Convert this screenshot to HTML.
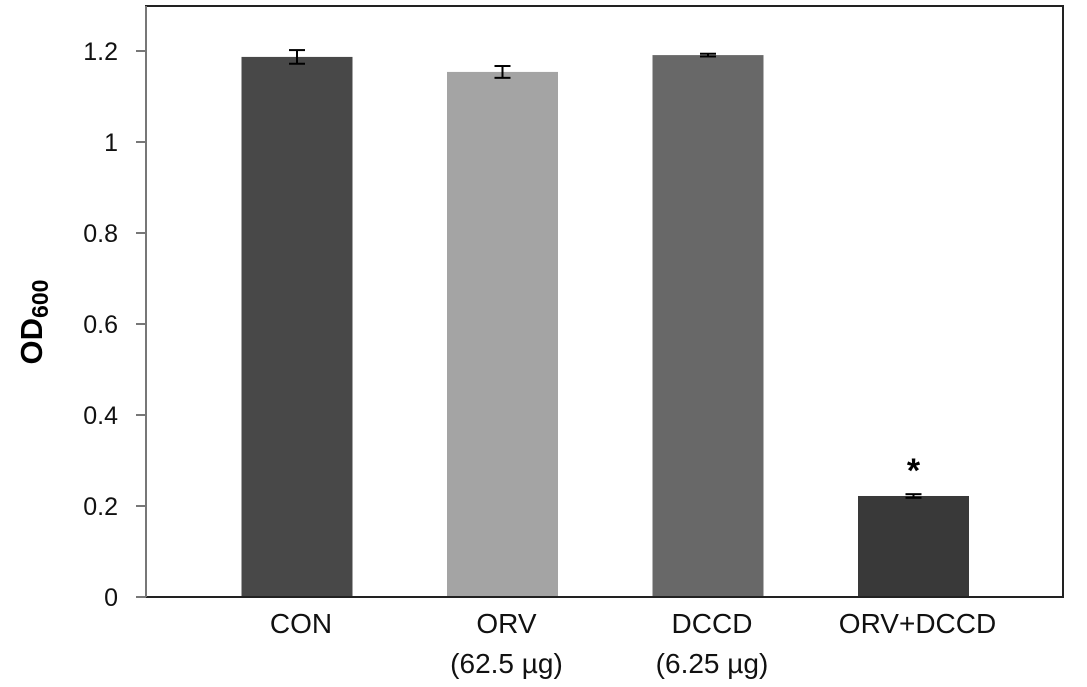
<!DOCTYPE html>
<html><head><meta charset="utf-8"><style>
body{margin:0;background:#fff;}
svg{display:block;font-family:"Liberation Sans",sans-serif;}
</style></head><body>
<svg id="chart" width="1087" height="687">
<rect x="146" y="6" width="917" height="591" fill="none" stroke="#222" stroke-width="2"/>
<g id="bars"></g>
<g id="yaxis"></g>
<text transform="translate(42,322) rotate(-90)" text-anchor="middle" font-size="31" font-weight="bold" fill="#000">OD<tspan font-size="23" dy="6">600</tspan></text>
</svg>
<script>
const categories=["CON","ORV","DCCD","ORV+DCCD"];
const subLabels=["","(62.5 µg)","(6.25 µg)",""];
const values=[1.187,1.154,1.191,0.222];
const errors=[0.015,0.013,0.003,0.004];
const colors=["#484848","#a4a4a4","#686868","#393939"];
const stars=["","","","*"];
const yTicks=[0,0.2,0.4,0.6,0.8,1,1.2];
const yTickLabels=["0","0.2","0.4","0.6","0.8","1","1.2"];
const NS="http://www.w3.org/2000/svg";
const y0=597,pxPerUnit=455;
function yScale(v){return y0-v*pxPerUnit;}
function xCenter(i){return 297+i*205.5;}
const bw=111;
function mk(t,a,p){const e=document.createElementNS(NS,t);for(const k in a)e.setAttribute(k,a[k]);p.appendChild(e);return e;}
const bars=document.getElementById('bars');
categories.forEach((c,i)=>{
 const cx=xCenter(i);
 const r=mk('rect',{x:cx-bw/2,y:yScale(values[i]),width:bw,height:y0-yScale(values[i]),fill:colors[i]},bars);
 
 
 const g=mk('g',{stroke:'#000','stroke-width':2},bars);
 
 
 const t=yScale(values[i]+errors[i]),b=yScale(values[i]-errors[i]);
 mk('line',{x1:cx,x2:cx,y1:t,y2:b},g);
 mk('line',{x1:cx-8,x2:cx+8,y1:t,y2:t},g);
 mk('line',{x1:cx-8,x2:cx+8,y1:b,y2:b},g);
 const l=mk('text',{x:cx+4,y:633,'text-anchor':'middle','font-size':28,fill:'#111'},bars);
 l.textContent=c;
 
 
 if(subLabels[i]){const s=mk('text',{x:cx+4,y:673,'text-anchor':'middle','font-size':28,fill:'#111'},bars);s.textContent=subLabels[i];
 
 }
 if(stars[i]){const s=mk('text',{x:cx,y:yScale(values[i]+errors[i])-12,'text-anchor':'middle','font-size':34,'font-weight':'bold',fill:'#000'},bars);s.textContent=stars[i];
 
 }
});
mk('line',{x1:146,x2:1063,y1:y0,y2:y0,stroke:'#222','stroke-width':2},bars);
const ya=document.getElementById('yaxis');
mk('line',{x1:146,x2:146,y1:6,y2:y0,stroke:'#777','stroke-width':2},ya);
yTicks.forEach((v,i)=>{
 mk('line',{x1:136,x2:146,y1:yScale(v),y2:yScale(v),stroke:'#777','stroke-width':2},ya);
 const t=mk('text',{x:118,y:yScale(v)+9,'text-anchor':'end','font-size':25,fill:'#111'},ya);
 t.textContent=yTickLabels[i];
 
 
});
</script>
</body></html>
